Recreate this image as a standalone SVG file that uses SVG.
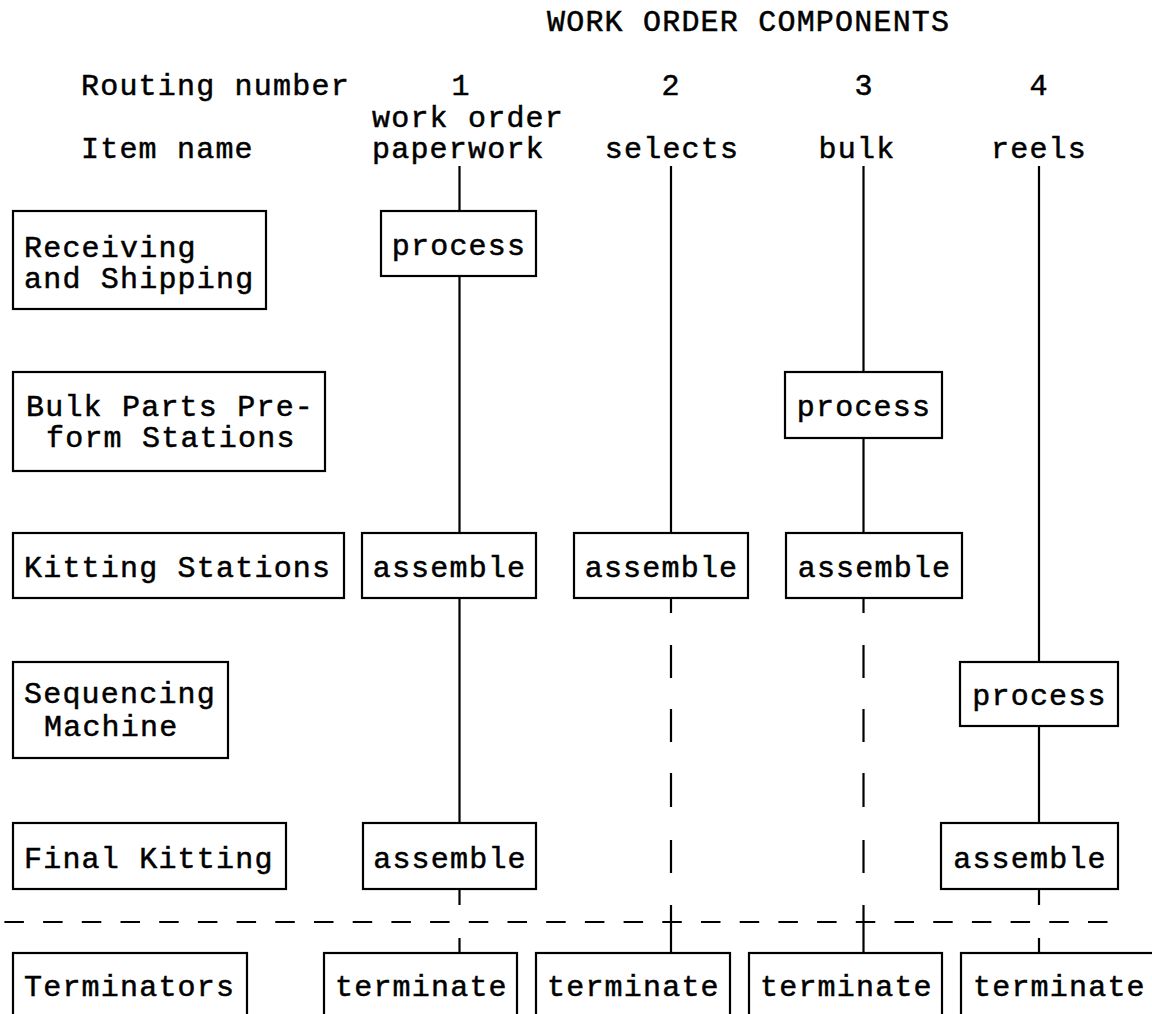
<svg xmlns="http://www.w3.org/2000/svg" width="1152" height="1014" viewBox="0 0 1152 1014">
  <style>
    text { font-family: "Liberation Mono", "DejaVu Sans Mono", monospace; font-size: 30px; letter-spacing: 1.2px; fill: #000; stroke: #000; stroke-width: 0.5; }
    .box { fill: #fff; stroke: #000; stroke-width: 2.2; }
    .ln { stroke: #000; stroke-width: 2.2; fill: none; }
    .mid { text-anchor: middle; }
  </style>
  <rect width="1152" height="1014" fill="#fff"/>

  <!-- headings -->
  <g id="headings">
    <text x="547" y="31">WORK ORDER COMPONENTS</text>
    <text x="81" y="95">Routing number</text>
    <text class="mid" x="461" y="95">1</text>
    <text class="mid" x="671" y="95">2</text>
    <text class="mid" x="864" y="95">3</text>
    <text class="mid" x="1039" y="95">4</text>
    <text x="372" y="127">work order</text>
    <text x="81" y="158">Item name</text>
    <text x="372" y="158">paperwork</text>
    <text class="mid" x="672" y="158">selects</text>
    <text class="mid" x="857" y="158">bulk</text>
    <text class="mid" x="1039" y="158">reels</text>
  </g>

  <!-- routing connectors -->
  <g id="connectors">
    <!-- column 1: work order paperwork -->
    <path class="ln" d="M459.5 166V211M459.5 276V533M459.5 598V823M459.5 889V905M459.5 938V953"/>
    <!-- column 2: selects -->
    <path class="ln" d="M671 166V533M671 598V613M671 645V678M671 709V742M671 773V807M671 840V873M671 905V953"/>
    <!-- column 3: bulk -->
    <path class="ln" d="M863.5 166V372M863.5 438V533M863.5 598V613M863.5 645V678M863.5 709V742M863.5 773V807M863.5 840V873M863.5 905V953"/>
    <!-- column 4: reels -->
    <path class="ln" d="M1039 166V662M1039 726V823M1039 889V905M1039 938V953"/>
    <!-- terminator boundary -->
    <line class="ln" x1="4.4" y1="922" x2="1108" y2="922" stroke-dasharray="19.5 19.2"/>
  </g>

  <!-- station labels -->
  <g id="station-receiving">
    <rect class="box" x="13" y="211" width="253" height="98"/>
    <text x="24" y="257">Receiving</text>
    <text x="24" y="288">and Shipping</text>
  </g>
  <g id="station-bulk-preform">
    <rect class="box" x="13" y="372" width="312" height="99"/>
    <text x="26" y="416">Bulk Parts Pre-</text>
    <text x="46" y="447">form Stations</text>
  </g>
  <g id="station-kitting">
    <rect class="box" x="13" y="533" width="331" height="65"/>
    <text x="24" y="577">Kitting Stations</text>
  </g>
  <g id="station-sequencing">
    <rect class="box" x="13" y="662" width="215" height="96"/>
    <text x="24" y="703">Sequencing</text>
    <text x="44" y="736">Machine</text>
  </g>
  <g id="station-final-kitting">
    <rect class="box" x="13" y="823" width="273" height="66"/>
    <text x="24" y="868">Final Kitting</text>
  </g>
  <g id="station-terminators">
    <rect class="box" x="13" y="953" width="234" height="90"/>
    <text x="24" y="996">Terminators</text>
  </g>

  <!-- operations -->
  <g id="op-1-receiving">
    <rect class="box" x="381" y="211" width="155" height="65"/>
    <text class="mid" x="459" y="255">process</text>
  </g>
  <g id="op-3-preform">
    <rect class="box" x="785" y="372" width="157" height="66"/>
    <text class="mid" x="864" y="416">process</text>
  </g>
  <g id="op-1-kitting">
    <rect class="box" x="362" y="533" width="174" height="65"/>
    <text class="mid" x="449.5" y="577">assemble</text>
  </g>
  <g id="op-2-kitting">
    <rect class="box" x="574" y="533" width="174" height="65"/>
    <text class="mid" x="661.5" y="577">assemble</text>
  </g>
  <g id="op-3-kitting">
    <rect class="box" x="786" y="533" width="176" height="65"/>
    <text class="mid" x="874.5" y="577">assemble</text>
  </g>
  <g id="op-4-sequencing">
    <rect class="box" x="960" y="662" width="158" height="64"/>
    <text class="mid" x="1039.5" y="705">process</text>
  </g>
  <g id="op-1-final">
    <rect class="box" x="363" y="823" width="173" height="66"/>
    <text class="mid" x="450" y="868">assemble</text>
  </g>
  <g id="op-4-final">
    <rect class="box" x="941" y="823" width="177" height="66"/>
    <text class="mid" x="1030" y="868">assemble</text>
  </g>
  <g id="term-1">
    <rect class="box" x="324" y="953" width="193" height="90"/>
    <text x="335" y="996">terminate</text>
  </g>
  <g id="term-2">
    <rect class="box" x="536" y="953" width="194" height="90"/>
    <text x="547" y="996">terminate</text>
  </g>
  <g id="term-3">
    <rect class="box" x="749" y="953" width="193" height="90"/>
    <text x="760" y="996">terminate</text>
  </g>
  <g id="term-4">
    <rect class="box" x="961" y="953" width="200" height="90"/>
    <text x="973" y="996">terminate</text>
  </g>
</svg>
